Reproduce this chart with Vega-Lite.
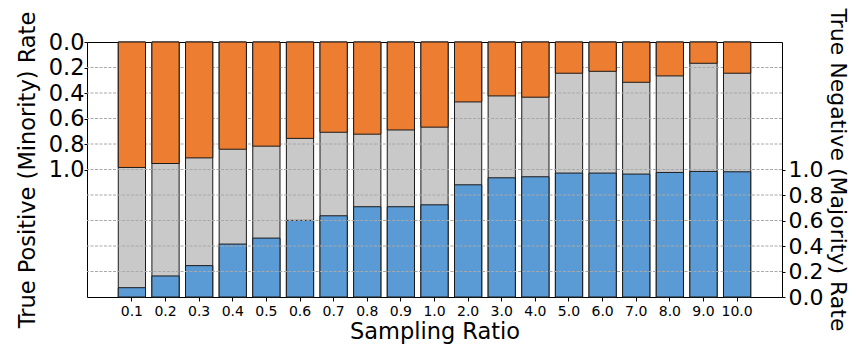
{
  "$schema": "https://vega.github.io/schema/vega-lite/v6.json",
  "width": 695,
  "height": 255,
  "autosize": {"type": "none"},
  "padding": {"left": 87, "top": 42, "right": 74, "bottom": 55},
  "background": "#ffffff",
  "config": {
    "view": {"stroke": "#000000", "strokeWidth": 1},
    "axis": {
      "labelFont": "DejaVu Sans",
      "titleFont": "DejaVu Sans",
      "labelColor": "#000000",
      "titleColor": "#000000",
      "titleFontWeight": "normal",
      "domain": false,
      "tickColor": "#000000",
      "grid": false
    }
  },
  "data": {
    "values": [
      {"ratio": "0.1", "tp": 0.984, "tn": 0.073},
      {"ratio": "0.2", "tp": 0.953, "tn": 0.165},
      {"ratio": "0.3", "tp": 0.909, "tn": 0.246},
      {"ratio": "0.4", "tp": 0.841, "tn": 0.415},
      {"ratio": "0.5", "tp": 0.817, "tn": 0.462},
      {"ratio": "0.6", "tp": 0.756, "tn": 0.601},
      {"ratio": "0.7", "tp": 0.708, "tn": 0.637},
      {"ratio": "0.8", "tp": 0.723, "tn": 0.708},
      {"ratio": "0.9", "tp": 0.690, "tn": 0.708},
      {"ratio": "1.0", "tp": 0.668, "tn": 0.723},
      {"ratio": "2.0", "tp": 0.470, "tn": 0.880},
      {"ratio": "3.0", "tp": 0.423, "tn": 0.935},
      {"ratio": "4.0", "tp": 0.433, "tn": 0.943},
      {"ratio": "5.0", "tp": 0.245, "tn": 0.972},
      {"ratio": "6.0", "tp": 0.230, "tn": 0.972},
      {"ratio": "7.0", "tp": 0.316, "tn": 0.964},
      {"ratio": "8.0", "tp": 0.266, "tn": 0.977},
      {"ratio": "9.0", "tp": 0.167, "tn": 0.985},
      {"ratio": "10.0", "tp": 0.245, "tn": 0.982}
    ]
  },
  "layer": [
    {
      "mark": {"type": "bar", "color": "#c9c9c9", "stroke": "#1a1a1a", "strokeWidth": 1},
      "encoding": {
        "x": {
          "field": "ratio", "type": "nominal", "sort": null,
          "scale": {"domain": ["0.1","0.2","0.3","0.4","0.5","0.6","0.7","0.8","0.9","1.0","2.0","3.0","4.0","5.0","6.0","7.0","8.0","9.0","10.0"], "paddingInner": 0.19, "paddingOuter": 0.93},
          "axis": {"title": "Sampling Ratio", "labelAngle": 0, "labelFontSize": 14, "tickSize": 4, "labelPadding": 3, "titleFontSize": 22.5, "titlePadding": 2}
        },
        "y": {
          "datum": 0, "type": "quantitative",
          "scale": {"domain": [0, 2], "reverse": true, "nice": false, "zero": false},
          "axis": {"orient": "left", "title": "True Positive (Minority) Rate", "values": [0, 0.2, 0.4, 0.6, 0.8, 1.0], "format": ".1f", "labelFontSize": 22.5, "tickSize": 3, "labelPadding": 0, "titleFontSize": 22.5, "titlePadding": 9}
        },
        "y2": {"datum": 2}
      }
    },
    {
      "mark": {"type": "bar", "color": "#5b9bd5", "stroke": "#1a1a1a", "strokeWidth": 1},
      "encoding": {
        "x": {"field": "ratio", "type": "nominal", "sort": null},
        "y": {
          "field": "tn", "type": "quantitative",
          "scale": {"domain": [0, 2], "nice": false},
          "axis": {"orient": "right", "title": "True Negative (Majority) Rate", "values": [0, 0.2, 0.4, 0.6, 0.8, 1.0], "format": ".1f", "labelFontSize": 22, "tickSize": 3, "labelPadding": 3, "titleFontSize": 22, "titlePadding": 3}
        }
      }
    },
    {
      "data": {"values": [{"g": 0.2}, {"g": 0.4}, {"g": 0.6}, {"g": 0.8}, {"g": 1.0}, {"g": 1.2}, {"g": 1.4}, {"g": 1.6}, {"g": 1.8}]},
      "mark": {"type": "rule", "color": "#a8a8a8", "strokeWidth": 1, "strokeDash": [3, 1.5]},
      "encoding": {
        "y": {"field": "g", "type": "quantitative", "scale": {"domain": [0, 2], "reverse": true, "nice": false}, "axis": null}
      }
    },
    {
      "mark": {"type": "bar", "color": "#ed7d31", "stroke": "#1a1a1a", "strokeWidth": 1},
      "encoding": {
        "x": {"field": "ratio", "type": "nominal", "sort": null},
        "y": {"field": "tp", "type": "quantitative", "scale": {"domain": [0, 2], "reverse": true, "nice": false}, "axis": null}
      }
    }
  ],
  "resolve": {"scale": {"y": "independent"}, "axis": {"y": "independent"}}
}
